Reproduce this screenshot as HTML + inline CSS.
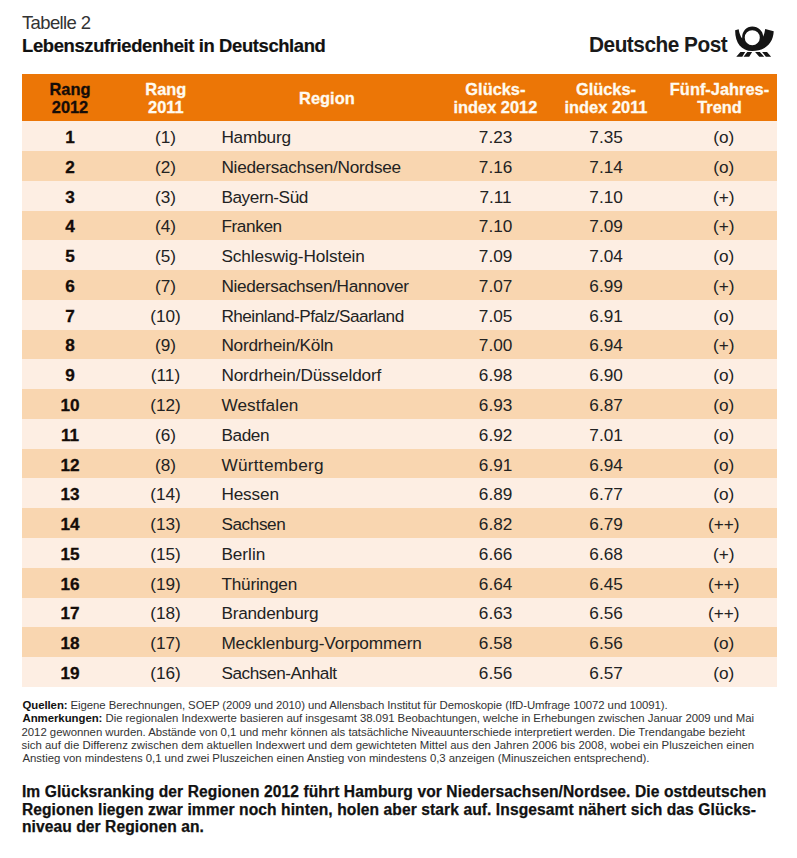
<!DOCTYPE html>
<html><head><meta charset="utf-8"><style>
*{margin:0;padding:0;box-sizing:border-box}
html,body{width:797px;height:858px;background:#fff;overflow:hidden}
body{position:relative;font-family:"Liberation Sans",sans-serif;color:#222}
.a{position:absolute;white-space:nowrap;line-height:40px}
.hd{position:absolute;left:22px;width:755px;top:73.5px;height:47.8px;background:#ec7606}
.hc{position:absolute;width:200px;text-align:center;font-weight:bold;font-size:16.4px;line-height:40px;white-space:nowrap}
.r{position:absolute;left:22px;width:755px;height:29.77px}
.l{background:#fdeee3}
.d{background:#f9d6b0}
.c{position:absolute;width:200px;text-align:center;font-size:17.2px;line-height:40px;top:-4.1px;color:#222;letter-spacing:0px;white-space:nowrap}
.rg{position:absolute;left:199.4px;font-size:17.2px;line-height:40px;top:-4.1px;color:#222;white-space:nowrap;letter-spacing:-0.35px}
.b{font-weight:bold;font-size:17.2px;color:#140c08;-webkit-text-stroke:0.3px #140c08}
b{font-weight:bold}
</style></head><body>
<div class="a" style="left:22.0px;top:3.3px;font-size:18.5px;letter-spacing:-0.638px;color:#333;">Tabelle 2</div>
<div class="a" style="left:22.1px;top:25.8px;font-size:18.4px;letter-spacing:-0.364px;color:#111;font-weight:bold;-webkit-text-stroke:0.2px #111">Lebenszufriedenheit in Deutschland</div>
<div class="a" style="left:589px;top:25px;font-size:22px;font-weight:bold;letter-spacing:-0.5px;transform:scaleX(0.945);transform-origin:0 0;color:#1a1a1a">Deutsche Post</div>
<svg style="position:absolute;left:730px;top:22px" width="50" height="38" viewBox="0 0 797 606"><path fill="#141414" fill-rule="evenodd" d="M82,133 L138,114 C148,180 170,235 195,265 C182,160 258,72 355,72 C452,72 532,150 528,235 C545,195 556,150 561,110 L697,146 C690,335 560,462 355,462 C180,462 80,330 82,133 Z M355,250 m-120,0 a120,120 0 1,0 240,0 a120,120 0 1,0 -240,0 Z"/><path fill="#141414" d="M100,556 L196,556 L242,480 L166,480 Z M216,556 L306,556 L352,480 L276,480 Z M400,480 L476,480 L546,556 L466,556 Z M512,480 L590,480 L656,556 L572,556 Z"/></svg>
<div class="hd"><div class="hc" style="left:-52px;top:-4.80px;color:#140c08;-webkit-text-stroke:0.3px #140c08">Rang</div><div class="hc" style="left:-52px;top:13.50px;color:#140c08;-webkit-text-stroke:0.3px #140c08">2012</div><div class="hc" style="left:43.849999999999994px;top:-4.80px;color:#fffaf0;-webkit-text-stroke:0.3px #fffaf0">Rang</div><div class="hc" style="left:43.849999999999994px;top:13.50px;color:#fffaf0;-webkit-text-stroke:0.3px #fffaf0">2011</div><div class="hc" style="left:204.89999999999998px;top:4.10px;color:#fffaf0;-webkit-text-stroke:0.3px #fffaf0">Region</div><div class="hc" style="left:373.4px;top:-4.80px;color:#fffaf0;-webkit-text-stroke:0.3px #fffaf0">Glücks-</div><div class="hc" style="left:373.4px;top:13.50px;color:#fffaf0;-webkit-text-stroke:0.3px #fffaf0">index 2012</div><div class="hc" style="left:484px;top:-4.80px;color:#fffaf0;-webkit-text-stroke:0.3px #fffaf0">Glücks-</div><div class="hc" style="left:484px;top:13.50px;color:#fffaf0;-webkit-text-stroke:0.3px #fffaf0">index 2011</div><div class="hc" style="left:597.5px;top:-4.80px;color:#fffaf0;-webkit-text-stroke:0.3px #fffaf0">Fünf-Jahres-</div><div class="hc" style="left:597.5px;top:13.50px;color:#fffaf0;-webkit-text-stroke:0.3px #fffaf0">Trend</div></div>
<div class="r l" style="top:121.20px"><div class="c b" style="left:-52px">1</div><div class="c" style="left:43.5px">(1)</div><div class="rg" style="letter-spacing:-0.183px">Hamburg</div><div class="c" style="left:373.6px">7.23</div><div class="c" style="left:484.1px">7.35</div><div class="c" style="left:601.8px">(o)</div></div>
<div class="r d" style="top:150.97px"><div class="c b" style="left:-52px">2</div><div class="c" style="left:43.5px">(2)</div><div class="rg" style="letter-spacing:-0.23px">Niedersachsen/Nordsee</div><div class="c" style="left:373.6px">7.16</div><div class="c" style="left:484.1px">7.14</div><div class="c" style="left:601.8px">(o)</div></div>
<div class="r l" style="top:180.74px"><div class="c b" style="left:-52px">3</div><div class="c" style="left:43.5px">(3)</div><div class="rg" style="letter-spacing:-0.422px">Bayern-Süd</div><div class="c" style="left:373.6px">7.11</div><div class="c" style="left:484.1px">7.10</div><div class="c" style="left:601.8px">(+)</div></div>
<div class="r d" style="top:210.51px"><div class="c b" style="left:-52px">4</div><div class="c" style="left:43.5px">(4)</div><div class="rg" style="letter-spacing:-0.383px">Franken</div><div class="c" style="left:373.6px">7.10</div><div class="c" style="left:484.1px">7.09</div><div class="c" style="left:601.8px">(+)</div></div>
<div class="r l" style="top:240.28px"><div class="c b" style="left:-52px">5</div><div class="c" style="left:43.5px">(5)</div><div class="rg" style="letter-spacing:-0.1px">Schleswig-Holstein</div><div class="c" style="left:373.6px">7.09</div><div class="c" style="left:484.1px">7.04</div><div class="c" style="left:601.8px">(o)</div></div>
<div class="r d" style="top:270.05px"><div class="c b" style="left:-52px">6</div><div class="c" style="left:43.5px">(7)</div><div class="rg" style="letter-spacing:-0.3px">Niedersachsen/Hannover</div><div class="c" style="left:373.6px">7.07</div><div class="c" style="left:484.1px">6.99</div><div class="c" style="left:601.8px">(+)</div></div>
<div class="r l" style="top:299.82px"><div class="c b" style="left:-52px">7</div><div class="c" style="left:43.5px">(10)</div><div class="rg" style="letter-spacing:-0.526px">Rheinland-Pfalz/Saarland</div><div class="c" style="left:373.6px">7.05</div><div class="c" style="left:484.1px">6.91</div><div class="c" style="left:601.8px">(o)</div></div>
<div class="r d" style="top:329.59px"><div class="c b" style="left:-52px">8</div><div class="c" style="left:43.5px">(9)</div><div class="rg" style="letter-spacing:-0.208px">Nordrhein/Köln</div><div class="c" style="left:373.6px">7.00</div><div class="c" style="left:484.1px">6.94</div><div class="c" style="left:601.8px">(+)</div></div>
<div class="r l" style="top:359.36px"><div class="c b" style="left:-52px">9</div><div class="c" style="left:43.5px">(11)</div><div class="rg" style="letter-spacing:-0.126px">Nordrhein/Düsseldorf</div><div class="c" style="left:373.6px">6.98</div><div class="c" style="left:484.1px">6.90</div><div class="c" style="left:601.8px">(o)</div></div>
<div class="r d" style="top:389.13px"><div class="c b" style="left:-52px">10</div><div class="c" style="left:43.5px">(12)</div><div class="rg" style="letter-spacing:0.113px">Westfalen</div><div class="c" style="left:373.6px">6.93</div><div class="c" style="left:484.1px">6.87</div><div class="c" style="left:601.8px">(o)</div></div>
<div class="r l" style="top:418.90px"><div class="c b" style="left:-52px">11</div><div class="c" style="left:43.5px">(6)</div><div class="rg" style="letter-spacing:-0.375px">Baden</div><div class="c" style="left:373.6px">6.92</div><div class="c" style="left:484.1px">7.01</div><div class="c" style="left:601.8px">(o)</div></div>
<div class="r d" style="top:448.67px"><div class="c b" style="left:-52px">12</div><div class="c" style="left:43.5px">(8)</div><div class="rg" style="letter-spacing:0.29px">Württemberg</div><div class="c" style="left:373.6px">6.91</div><div class="c" style="left:484.1px">6.94</div><div class="c" style="left:601.8px">(o)</div></div>
<div class="r l" style="top:478.44px"><div class="c b" style="left:-52px">13</div><div class="c" style="left:43.5px">(14)</div><div class="rg" style="letter-spacing:-0.14px">Hessen</div><div class="c" style="left:373.6px">6.89</div><div class="c" style="left:484.1px">6.77</div><div class="c" style="left:601.8px">(o)</div></div>
<div class="r d" style="top:508.21px"><div class="c b" style="left:-52px">14</div><div class="c" style="left:43.5px">(13)</div><div class="rg" style="letter-spacing:-0.417px">Sachsen</div><div class="c" style="left:373.6px">6.82</div><div class="c" style="left:484.1px">6.79</div><div class="c" style="left:601.8px">(++)</div></div>
<div class="r l" style="top:537.98px"><div class="c b" style="left:-52px">15</div><div class="c" style="left:43.5px">(15)</div><div class="rg" style="letter-spacing:-0.02px">Berlin</div><div class="c" style="left:373.6px">6.66</div><div class="c" style="left:484.1px">6.68</div><div class="c" style="left:601.8px">(+)</div></div>
<div class="r d" style="top:567.75px"><div class="c b" style="left:-52px">16</div><div class="c" style="left:43.5px">(19)</div><div class="rg" style="letter-spacing:-0.2px">Thüringen</div><div class="c" style="left:373.6px">6.64</div><div class="c" style="left:484.1px">6.45</div><div class="c" style="left:601.8px">(++)</div></div>
<div class="r l" style="top:597.52px"><div class="c b" style="left:-52px">17</div><div class="c" style="left:43.5px">(18)</div><div class="rg" style="letter-spacing:-0.22px">Brandenburg</div><div class="c" style="left:373.6px">6.63</div><div class="c" style="left:484.1px">6.56</div><div class="c" style="left:601.8px">(++)</div></div>
<div class="r d" style="top:627.29px"><div class="c b" style="left:-52px">18</div><div class="c" style="left:43.5px">(17)</div><div class="rg" style="letter-spacing:-0.095px">Mecklenburg-Vorpommern</div><div class="c" style="left:373.6px">6.58</div><div class="c" style="left:484.1px">6.56</div><div class="c" style="left:601.8px">(o)</div></div>
<div class="r l" style="top:657.06px"><div class="c b" style="left:-52px">19</div><div class="c" style="left:43.5px">(16)</div><div class="rg" style="letter-spacing:-0.431px">Sachsen-Anhalt</div><div class="c" style="left:373.6px">6.56</div><div class="c" style="left:484.1px">6.57</div><div class="c" style="left:601.8px">(o)</div></div>
<div class="a" style="left:22.5px;top:685.0px;font-size:11.4px;letter-spacing:-0.073px;color:#333;"><b style="color:#111">Quellen:</b> Eigene Berechnungen, SOEP (2009 und 2010) und Allensbach Institut für Demoskopie (IfD-Umfrage 10072 und 10091).</div>
<div class="a" style="left:22.5px;top:697.8px;font-size:11.4px;letter-spacing:-0.042px;color:#333;"><b style="color:#111">Anmerkungen:</b> Die regionalen Indexwerte basieren auf insgesamt 38.091 Beobachtungen, welche in Erhebungen zwischen Januar 2009 und Mai</div>
<div class="a" style="left:21.5px;top:711.7px;font-size:11.4px;letter-spacing:-0.03px;color:#333;">2012 gewonnen wurden. Abstände von 0,1 und mehr können als tatsächliche Niveauunterschiede interpretiert werden. Die Trendangabe bezieht</div>
<div class="a" style="left:21.5px;top:724.7px;font-size:11.4px;letter-spacing:0.011px;color:#333;">sich auf die Differenz zwischen dem aktuellen Indexwert und dem gewichteten Mittel aus den Jahren 2006 bis 2008, wobei ein Pluszeichen einen</div>
<div class="a" style="left:22.5px;top:737.7px;font-size:11.4px;letter-spacing:-0.038px;color:#333;">Anstieg von mindestens 0,1 und zwei Pluszeichen einen Anstieg von mindestens 0,3 anzeigen (Minuszeichen entsprechend).</div>
<div class="a" style="left:21.9px;top:771.8px;font-size:15.6px;letter-spacing:0.096px;color:#111;font-weight:bold;-webkit-text-stroke:0.25px #111">Im Glücksranking der Regionen 2012 führt Hamburg vor Niedersachsen/Nordsee. Die ostdeutschen</div>
<div class="a" style="left:21.9px;top:789.6px;font-size:15.6px;letter-spacing:0.084px;color:#111;font-weight:bold;-webkit-text-stroke:0.25px #111">Regionen liegen zwar immer noch hinten, holen aber stark auf. Insgesamt nähert sich das Glücks-</div>
<div class="a" style="left:21.9px;top:807.4px;font-size:15.6px;letter-spacing:0.082px;color:#111;font-weight:bold;-webkit-text-stroke:0.25px #111">niveau der Regionen an.</div>
</body></html>
